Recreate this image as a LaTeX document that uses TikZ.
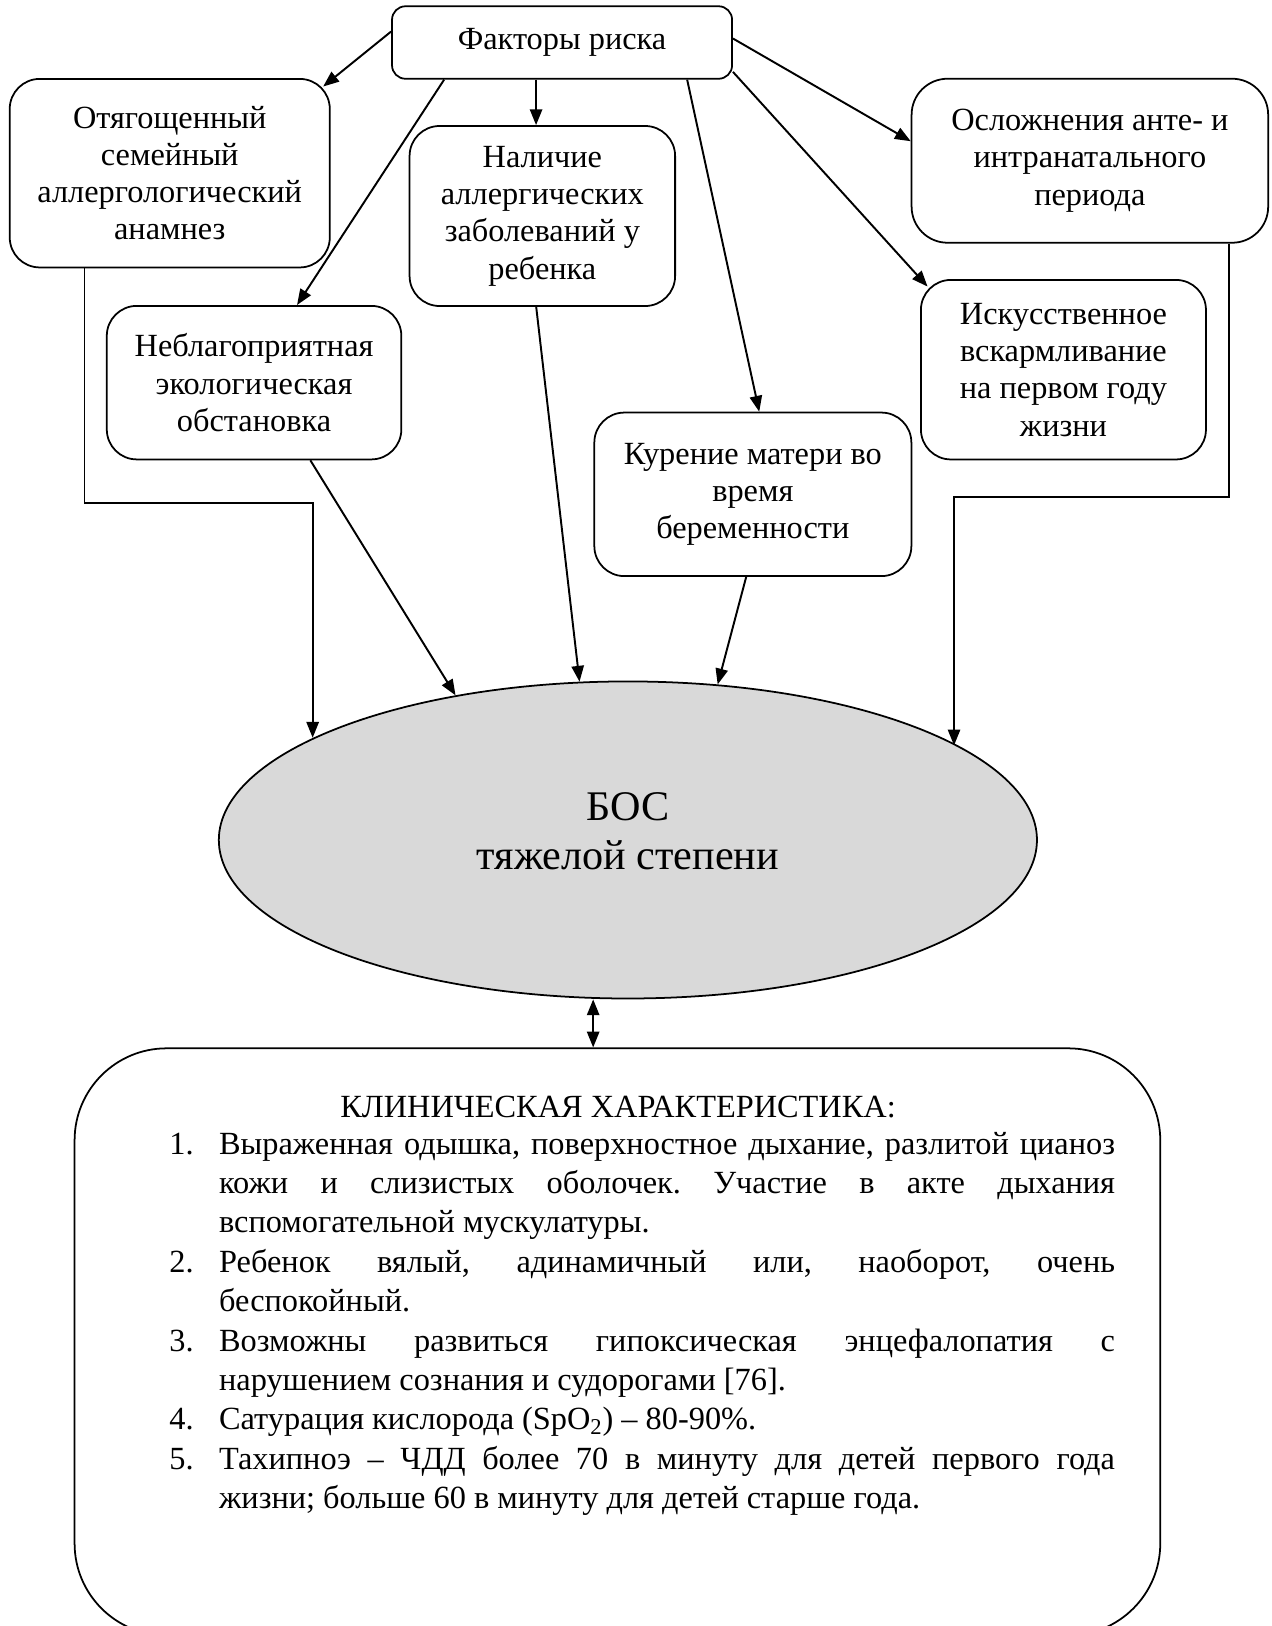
\documentclass[tikz,border=0pt]{standalone}
\usepackage{fontspec}
\setmainfont{Liberation Serif}
\usetikzlibrary{arrows.meta,shapes.geometric,calc}
\definecolor{bosgray}{HTML}{D9D9D9}
\tikzset{
  factor/.style={draw,line width=1pt,rounded corners=0.6cm,align=center,inner sep=0pt,
    font=\fontsize{18.4}{21.2}\selectfont},
  link/.style={line width=1.1pt,->},
}
\newcommand{\klitem}[1]{\noindent\hangindent=0.995cm\hangafter=1\makebox[0.995cm][l]{#1}}
\frenchspacing
\begin{document}
\begin{tikzpicture}[x=0.020734cm,y=-0.020734cm,>={Triangle[length=9pt,width=7pt]}]
  \useasboundingbox (0,0) rectangle (1226,1568);
  % Risk factors
  \node[factor,rounded corners=0.27cm,minimum width=6.80cm,minimum height=1.45cm] (ftr) at (542,41) {Факторы риска};
  \node[factor,minimum width=6.40cm,minimum height=3.77cm] (ota) at (163.7,167) {Отягощенный\\семейный\\аллергологический\\анамнез};
  \node[factor,minimum width=5.31cm,minimum height=3.60cm] (nal) at (523,208.3) {Наличие\\аллергических\\заболеваний у\\ребенка};
  \node[factor,minimum width=5.89cm,minimum height=3.07cm] (eco) at (245,369) {Неблагоприятная\\экологическая\\обстановка};
  \node[factor,minimum width=6.34cm,minimum height=3.27cm] (kur) at (726,476.7) {Курение матери во\\время\\беременности};
  \node[factor,rounded corners=0.72cm,minimum width=7.13cm,minimum height=3.28cm] (osl) at (1051,155) {Осложнения анте- и\\интранатального\\периода};
  \node[factor,minimum width=5.70cm,minimum height=3.59cm] (isk) at (1025.5,356.5) {Искусственное\\вскармливание\\на первом году\\жизни};
  % Ellipse
  \node[ellipse,draw,fill=bosgray,line width=1pt,minimum width=16.36cm,minimum height=6.34cm,inner sep=0pt,
    align=center,text depth=0.36cm,font=\fontsize{24}{28.2}\selectfont] (bos) at (605.5,810) {БОС\\тяжелой степени};
  % Clinical box
  \node[draw,line width=1pt,rounded corners=1.84cm,minimum width=21.71cm,minimum height=11.74cm] (klin) at (595.4,1294) {};
  \node[anchor=base,inner sep=0pt,font=\fontsize{18.4}{22.4}\selectfont] (klhead) at (596,1078) {КЛИНИЧЕСКАЯ ХАРАКТЕРИСТИКА:};
  \node[anchor=base west,inner sep=0pt,text width=18.91cm,align=justify,font=\fontsize{18.4}{22.4}\selectfont] (kllist) at (163,1113) {\hbadness=10000\parskip=0pt
    \klitem{1.}Выраженная одышка, поверхностное дыхание, разлитой цианоз\linebreak кожи и слизистых оболочек. Участие в акте дыхания\linebreak вспомогательной мускулатуры.\par
    \klitem{2.}Ребенок вялый, адинамичный или, наоборот, очень\linebreak беспокойный.\par
    \klitem{3.}Возможны развиться гипоксическая энцефалопатия с\linebreak нарушением сознания и судорогами [76].\par
    \klitem{4.}Сатурация кислорода (SpO\textsubscript{2}) – 80-90\%.\par
    \klitem{5.}Тахипноэ – ЧДД более 70 в минуту для детей первого года\linebreak жизни; больше 60 в минуту для детей старше года.\par};
  % From the risk factors
  \draw[link] ([yshift=0.22cm]ftr.west) -- ([xshift=-0.15cm,yshift=-0.17cm]ota.north east);
  \coordinate (f1) at ($(ftr.south west)!0.155!(ftr.south east)$);
  \draw[link] (f1) -- ($(eco.north west)!0.645!(eco.north east)$);
  \coordinate (f2) at ($(ftr.south west)!0.424!(ftr.south east)$);
  \draw[link] (f2) -- (f2 |- nal.north);
  \coordinate (f3) at ($(ftr.south west)!0.866!(ftr.south east)$);
  \draw[link] (f3) -- ($(kur.north west)!0.52!(kur.north east)$);
  \draw[link] ([yshift=0.155cm]ftr.south east) -- ([xshift=0.15cm,yshift=-0.15cm]isk.north west);
  \draw[link] ([yshift=0.08cm]ftr.east) -- ([yshift=0.39cm]osl.west);
  % Into the ellipse
  \coordinate (a1) at ($(ota.south west)!0.235!(ota.south east)$);
  \coordinate (a2) at (301.5,485);
  \draw[link] (a1) |- (a2) -- (a2 |- bos.162);
  \draw[link] ($(eco.south west)!0.69!(eco.south east)$) -- (bos.140);
  \draw[link] ($(nal.south west)!0.477!(nal.south east)$) -- (bos.107);
  \draw[link] ($(kur.south west)!0.479!(kur.south east)$) -- (bos.60);
  \coordinate (o1) at ($(osl.south west)!0.888!(osl.south east)$);
  \coordinate (o2) at (920,479);
  \draw[link] (o1) |- (o2) -- (o2 |- bos.16);
  % Ellipse and clinical box
  \coordinate (dd) at (572,0);
  \draw[link,<->] (dd |- bos.south) -- (dd |- klin.north);
\end{tikzpicture}
\end{document}
